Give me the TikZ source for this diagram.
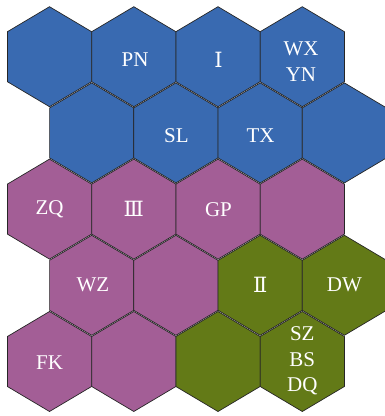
\documentclass[tikz,border=0pt]{standalone}
\usepackage{fontspec}
\setmainfont{Liberation Serif}
\newfontfamily\numfont{DejaVu Serif}
\usetikzlibrary{positioning}

\definecolor{hexblue}{RGB}{57,106,177}
\definecolor{hexpurple}{RGB}{163,94,150}
\definecolor{hexgreen}{RGB}{99,122,23}

\begin{document}
\begin{tikzpicture}[
    x=1pt, y=-1pt,
    cell/.style={draw=black!85, line width=0.7pt},
    lbl/.style={text=white, align=center, inner sep=0pt,
                font=\fontsize{21}{25.5}\selectfont},
    num/.style={lbl, font=\numfont\fontsize{21}{25.5}\selectfont},
]
\useasboundingbox (0,0) rectangle (385,416);

% ---- hexagon cells (centre x / centre y / colour) ----
\foreach \cx/\cy/\col in {
    49.5/56.7/hexblue, 133.8/56.7/hexblue, 218.0/56.7/hexblue, 302.3/56.7/hexblue,
    91.7/132.9/hexblue, 175.9/132.9/hexblue, 260.2/132.9/hexblue, 344.4/132.9/hexblue,
    49.5/209.1/hexpurple, 133.8/209.1/hexpurple, 218.0/209.1/hexpurple, 302.3/209.1/hexpurple,
    91.7/285.3/hexpurple, 175.9/285.3/hexpurple, 260.2/285.3/hexgreen, 344.4/285.3/hexgreen,
    49.5/361.5/hexpurple, 133.8/361.5/hexpurple, 218.0/361.5/hexgreen, 302.3/361.5/hexgreen}
  \filldraw[cell, fill=\col] (\cx,\cy-50) -- ++(42.1,25) -- ++(0,50) -- ++(-42.1,25)
      -- ++(-42.1,-25) -- ++(0,-50) -- cycle;

% ---- labels ----
\node[lbl] (pn)   at (135.0,59.7)  {PN};
\node[num] (r1)   at (218.5,60.0)  {Ⅰ};
\node[lbl] (wxyn) at (301.0,61.7)  {WX\\YN};
\node[lbl] (sl)   at (176.5,135.8) {SL};
\node[lbl] (tx)   at (260.5,135.8) {TX};
\node[lbl] (zq)   at (49.5,209.2)  {ZQ};
\node[num] (r3)   at (133.8,209.2) {Ⅲ};
\node[lbl] (gp)   at (218.5,209.2) {GP};
\node[lbl] (wz)   at (93.0,285.0)  {WZ};
\node[num] (r2)   at (260.2,285.0) {Ⅱ};
\node[lbl] (dw)   at (344.4,284.7) {DW};
\node[lbl] (fk)   at (49.5,362.2)  {FK};
\node[lbl] (szbs) at (302.3,360.8) {SZ\\BS\\DQ};

\end{tikzpicture}
\end{document}
